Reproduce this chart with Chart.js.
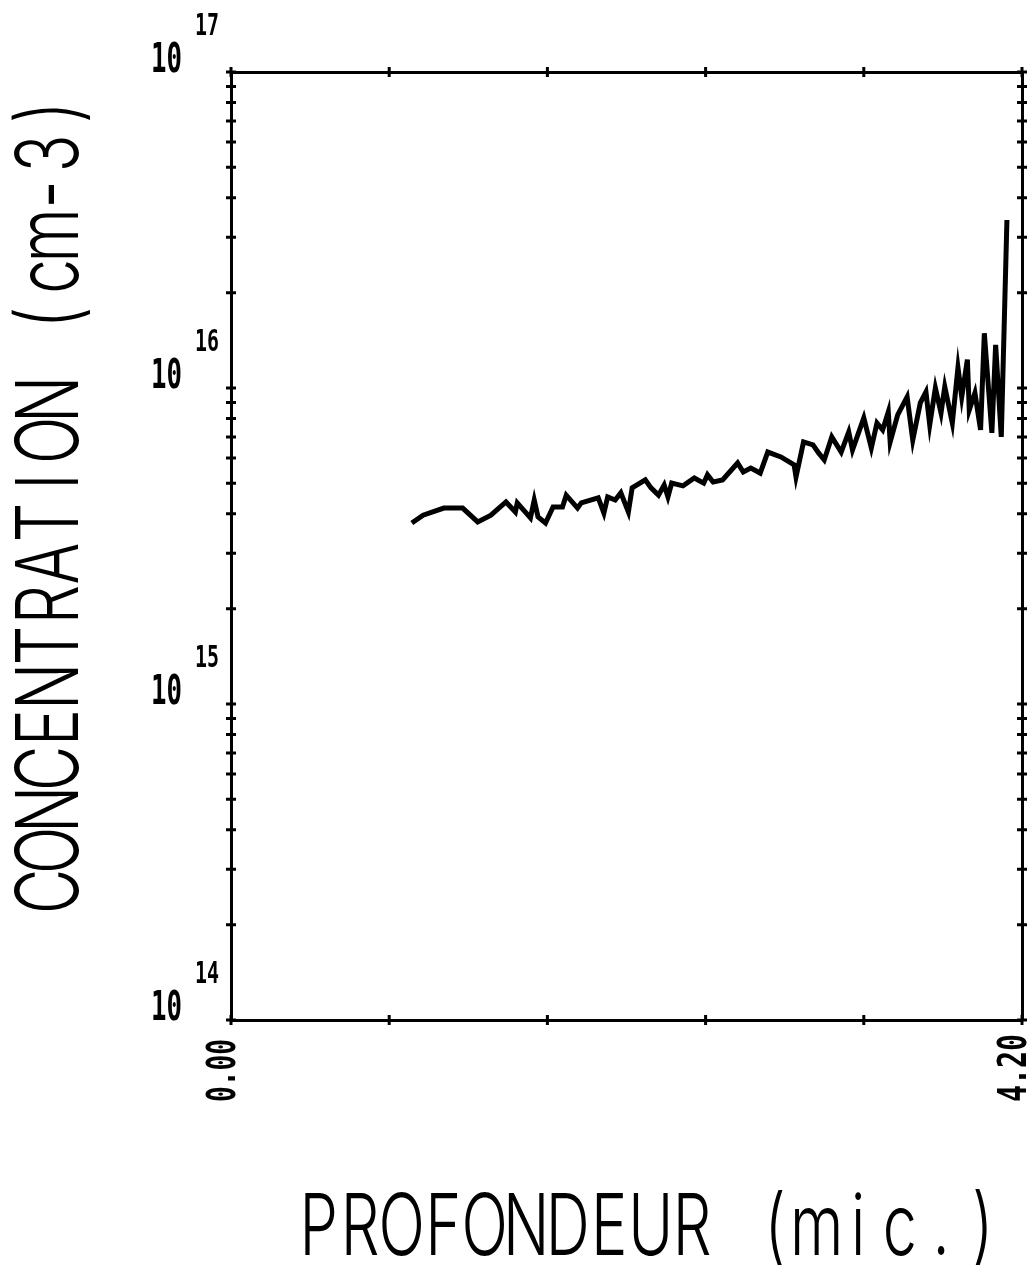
<!DOCTYPE html>
<html>
<head>
<meta charset="utf-8">
<script src="https://cdn.jsdelivr.net/npm/chart.js@4.4.0/dist/chart.umd.min.js"></script>
<style>
  body { margin: 0; background: #fff; }
  #wrap { width: 1028px; height: 1265px; }
</style>
</head>
<body>
<div id="wrap"><canvas id="profil" width="1028" height="1265"></canvas></div>
<script>
// profondeur (microns) et concentration (cm-3)
var depth = [0.96,1.02,1.13,1.23,1.31,1.38,1.46,1.51,1.52,1.59,1.61,1.63,1.67,1.71,1.76,1.78,1.84,1.86,1.95,1.98,
  2.00,2.04,2.07,2.11,2.13,2.20,2.23,2.27,2.30,2.32,2.34,2.40,2.46,2.51,2.53,2.56,2.61,2.69,2.72,2.76,
  2.81,2.85,2.92,2.99,3.00,3.04,3.09,3.12,3.15,3.19,3.24,3.28,3.30,3.36,3.40,3.43,3.46,3.49,3.50,3.54,
  3.59,3.62,3.66,3.69,3.71,3.74,3.77,3.79,3.83,3.86,3.88,3.91,3.92,3.95,3.98,4.00,4.04,4.06,4.09,4.12];
var conc = [3.74e15,3.96e15,4.17e15,4.17e15,3.77e15,3.96e15,4.36e15,4.05e15,4.33e15,3.88e15,
  4.42e15,3.91e15,3.74e15,4.20e15,4.20e15,4.58e15,4.17e15,4.33e15,4.49e15,4.02e15,
  4.52e15,4.42e15,4.66e15,4.05e15,4.83e15,5.12e15,4.83e15,4.58e15,4.93e15,4.52e15,
  5.00e15,4.90e15,5.19e15,5.00e15,5.31e15,5.04e15,5.12e15,5.79e15,5.42e15,5.58e15,
  5.38e15,6.27e15,6.05e15,5.71e15,5.23e15,6.75e15,6.61e15,6.23e15,5.92e15,7.00e15,
  6.27e15,7.26e15,6.37e15,8.04e15,6.46e15,7.75e15,7.37e15,8.40e15,6.75e15,8.22e15,
  9.37e15,6.84e15,8.97e15,9.71e15,7.64e15,1.00e16,8.34e15,1.01e16,7.75e15,1.16e16,
  9.37e15,1.23e16,8.51e15,9.64e15,7.37e15,1.49e16,7.21e15,1.37e16,7.00e15,3.40e16];
var xTicks = [0, 0.84, 1.68, 2.52, 3.36, 4.2];
var xLabels = ['0.00', '4.20'];   // seuls le premier et le dernier sont ecrits
var decades = [14, 15, 16, 17];
var xTitle = 'PROFONDEUR (mic.)';
var yTitle = 'CONCENTRATION (cm-3)';

var points = depth.map(function (d, i) { return { x: d, y: conc[i] }; });

// texte etire pour imiter le trace du plotter
function drawText(ctx, txt, x, y, cap, width, font, weight, rot) {
  var size = cap / 0.73;
  ctx.save();
  ctx.font = weight + ' ' + size + 'px ' + font;
  ctx.textBaseline = 'alphabetic';
  ctx.textAlign = 'left';
  var w = ctx.measureText(txt).width;
  ctx.translate(x, y);
  if (rot) ctx.rotate(rot);
  ctx.scale(width / w, 1);
  ctx.fillStyle = '#000';
  ctx.fillText(txt, 0, 0);
  ctx.restore();
}

// une lettre par case, pas fixe, comme la table tracante
function drawMono(ctx, txt, x, y, cap, step, sx, font, weight, rot) {
  var size = cap / 0.73;
  ctx.save();
  ctx.font = weight + ' ' + size + 'px ' + font;
  ctx.textBaseline = 'alphabetic';
  ctx.textAlign = 'center';
  ctx.fillStyle = '#000';
  ctx.translate(x, y);
  if (rot) ctx.rotate(rot);
  for (var i = 0; i < txt.length; i++) {
    if (txt[i] === ' ') continue;
    ctx.save();
    ctx.translate(step * (i + 0.5), 0);
    ctx.scale(sx, 1);
    ctx.fillText(txt[i], 0, 0);
    ctx.restore();
  }
  ctx.restore();
}

var plotterDecor = {
  id: 'plotterDecor',
  afterDraw: function (chart) {
    var ctx = chart.ctx;
    var xs = chart.scales.x, ys = chart.scales.y;
    var a = chart.chartArea;

    // petites croix sur les quatre cotes
    ctx.save();
    ctx.strokeStyle = '#000';
    ctx.lineWidth = 3;
    ctx.beginPath();
    decades.forEach(function (e) {
      for (var m = 1; m <= 9; m++) {
        var v = m * Math.pow(10, e);
        if (e === 17 && m > 1) break;
        var py = ys.getPixelForValue(v);
        ctx.moveTo(a.left - 5, py); ctx.lineTo(a.left + 5, py);
        ctx.moveTo(a.right - 5, py); ctx.lineTo(a.right + 5, py);
      }
    });
    xTicks.forEach(function (t) {
      var px = xs.getPixelForValue(t);
      ctx.moveTo(px, a.bottom - 5); ctx.lineTo(px, a.bottom + 5);
      ctx.moveTo(px, a.top - 5); ctx.lineTo(px, a.top + 5);
    });
    ctx.stroke();
    ctx.restore();

    // 10 puissance n
    var mono = '"DejaVu Sans Mono", monospace';
    decades.forEach(function (e) {
      var py = ys.getPixelForValue(Math.pow(10, e));
      drawText(ctx, '10', a.left - 80, py, 30, 31, mono, 'bold', 0);
      drawText(ctx, String(e), a.left - 36, py - 37, 22, 24, mono, 'bold', 0);
    });

    // etiquettes de l'axe des x, verticales
    drawText(ctx, xLabels[0], xs.getPixelForValue(xTicks[0]) + 4, a.bottom + 82, 29, 63, mono, 'bold', -Math.PI / 2);
    drawText(ctx, xLabels[1], xs.getPixelForValue(xTicks[xTicks.length - 1]) + 4, a.bottom + 82, 29, 68, mono, 'bold', -Math.PI / 2);

    // titres des axes
    var thin = 'Inter, "DejaVu Sans", sans-serif';
    drawMono(ctx, yTitle, 78, 912, 63, 41, 0.72, thin, '300', -Math.PI / 2);
    drawMono(ctx, xTitle, 298, 1255, 62, 41.5, 0.72, thin, '300', 0);
  }
};

var chart = new Chart(document.getElementById('profil'), {
  type: 'line',
  data: {
    datasets: [{
      data: points,
      borderColor: '#000',
      borderWidth: 5,
      pointRadius: 0,
      tension: 0,
      fill: false
    }]
  },
  options: {
    responsive: false,
    animation: false,
    events: [],
    layout: { padding: { left: 231, right: 6, top: 72, bottom: 245 } },
    plugins: { legend: { display: false }, tooltip: { enabled: false } },
    scales: {
      x: {
        type: 'linear', position: 'bottom', min: 0, max: 4.2,
        grid: { display: false, drawTicks: false },
        ticks: { display: false },
        border: { display: true, color: '#000', width: 3 }
      },
      xTop: {
        type: 'linear', position: 'top', min: 0, max: 4.2,
        grid: { display: false, drawTicks: false },
        ticks: { display: false },
        border: { display: true, color: '#000', width: 3 }
      },
      y: {
        type: 'logarithmic', position: 'left', min: 1e14, max: 1e17,
        grid: { display: false, drawTicks: false },
        ticks: { display: false },
        border: { display: true, color: '#000', width: 3 }
      },
      yRight: {
        type: 'logarithmic', position: 'right', min: 1e14, max: 1e17,
        grid: { display: false, drawTicks: false },
        ticks: { display: false },
        border: { display: true, color: '#000', width: 3 }
      }
    }
  },
  plugins: [plotterDecor]
});
</script>
</body>
</html>
